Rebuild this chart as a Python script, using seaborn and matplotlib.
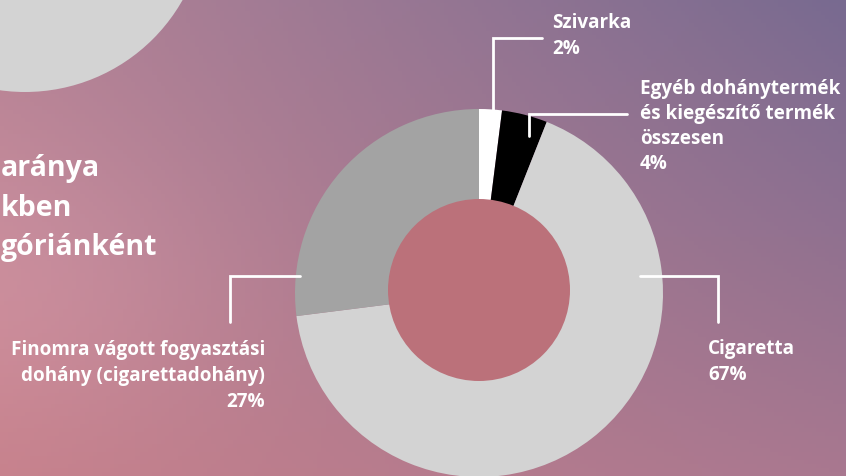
import numpy as np
import matplotlib
matplotlib.use("Agg")
import matplotlib.pyplot as plt
from matplotlib.patches import Circle
import seaborn as sns

# data
categories = ["Szivarka",
              "Egyéb dohánytermék\nés kiegészítő termék\nösszesen",
              "Cigaretta",
              "Finomra vágott fogyasztási\ndohány (cigarettadohány)"]
shares = [2, 4, 67, 27]
slice_colors = ["#ffffff", "#000000", "#d3d3d3", "#a3a3a3"]
title_parts = ["aránya", "kben", "góriánként"]

W, H = 846, 477


def py(y):
    # pixel row (from top) -> data y (from bottom)
    return H - y


sns.set_theme(style="white")
plt.rcParams["font.family"] = ["Open Sans", "DejaVu Sans"]

fig = plt.figure(figsize=(W / 100, H / 100), dpi=100)
ax = fig.add_axes([0, 0, 1, 1])

# background gradient (bilinear between four corners)
tl = np.array(matplotlib.colors.to_rgb("#b58396"))
tr = np.array(matplotlib.colors.to_rgb("#786a90"))
bl = np.array(matplotlib.colors.to_rgb("#c47f8a"))
br = np.array(matplotlib.colors.to_rgb("#a97890"))
gx = np.linspace(0, 1, 200)[None, :, None]
gy = np.linspace(0, 1, 120)[:, None, None]
top = tl * (1 - gx) + tr * gx
bot = bl * (1 - gx) + br * gx
grad = top * (1 - gy) + bot * gy
# lighter band on the left middle
bump = np.exp(-((gx - 0.0) ** 2) / 0.08 - ((gy - 0.6) ** 2) / 0.12)
grad = np.clip(grad + 0.05 * bump, 0, 1)
ax.imshow(grad, extent=[0, W, 0, H], origin="upper", aspect="auto", zorder=0)

# decorative grey circle in the corner
ax.add_patch(Circle((25, py(-88)), 181, color="#d3d3d3", zorder=1, lw=0))

# donut
ax.pie(shares, colors=slice_colors, startangle=90, counterclock=False,
       radius=184, center=(479, py(294)),
       wedgeprops=dict(linewidth=0, zorder=2), frame=False)
ax.add_patch(Circle((479, py(291)), 91, color="#bb717a", zorder=3, lw=0))

# leader lines
lw = 2
ax.plot([493, 493, 542], [py(112), py(39), py(39)], color="white", lw=lw, zorder=4, solid_joinstyle="miter")
ax.plot([529, 529, 627], [py(137), py(115), py(115)], color="white", lw=lw, zorder=4, solid_joinstyle="miter")
ax.plot([640, 718, 718], [py(277), py(277), py(323)], color="white", lw=lw, zorder=4, solid_joinstyle="miter")
ax.plot([300, 230, 230], [py(277), py(277), py(323)], color="white", lw=lw, zorder=4, solid_joinstyle="miter")

# labels
fs = 13.6
label_pos = [(552, 28, 26, "left"), (640, 94, 25, "left"),
             (708, 354, 26, "left"), (265, 355, 26, "right")]
for name, val, (x, y0, step, ha) in zip(categories, shares, label_pos):
    lines = name.split("\n") + ["{}%".format(val)]
    for i, line in enumerate(lines):
        ax.text(x, py(y0 + i * step), line, color="white", fontsize=fs,
                fontweight="bold", ha=ha, va="baseline", zorder=5)

# cut-off title on the left
for i, part in enumerate(title_parts):
    ax.text(1, py(176 + i * 39.5), part, color="white", fontsize=20.5,
            fontweight="bold", ha="left", va="baseline", zorder=5)

ax.set_xlim(0, W)
ax.set_ylim(0, H)
ax.set_aspect("auto")
ax.axis("off")

fig.savefig("out.png", dpi=100)
